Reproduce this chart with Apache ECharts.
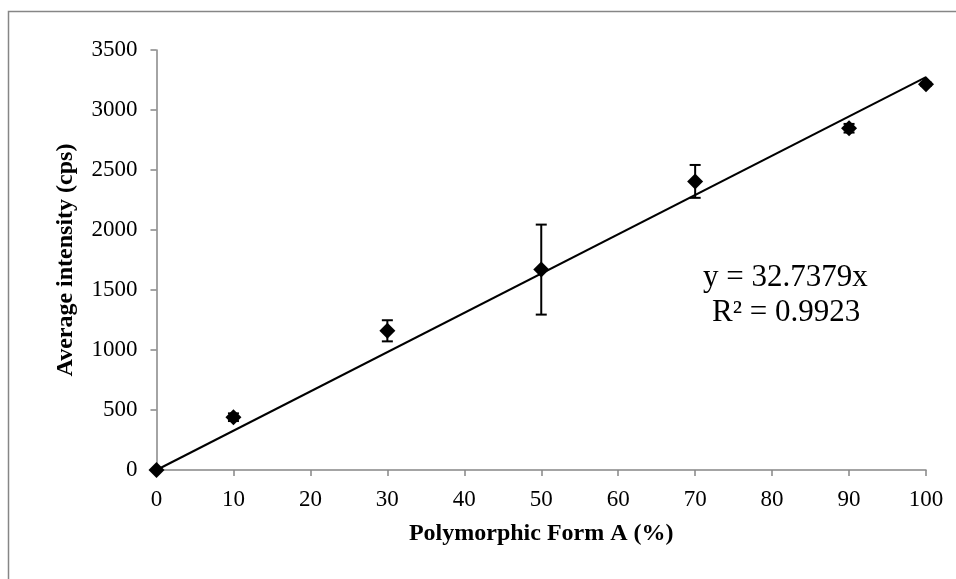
<!DOCTYPE html>
<html>
<head>
<meta charset="utf-8">
<script src="https://cdn.jsdelivr.net/npm/echarts@6/dist/echarts.min.js"></script>
<style>
  html, body { margin: 0; padding: 0; background: #fff; }
  #chart { width: 956px; height: 579px; }
</style>
</head>
<body>
<div id="chart"></div>
<script>
// Polymorphic form A content (%) and measured average intensity (cps)
const formA = [0, 10, 30, 50, 70, 90, 100];
const intensity = [0, 440, 1160, 1670, 2405, 2848, 3215];
// standard deviation of each measurement (cps)
const stdDev = [0, 32, 88, 375, 137, 36, 15];
// linear fit through the origin
const slope = 32.7379;
const rSquared = 0.9923;
const fitRange = [0, 100];

const axisGray = '#868686';
const font = 'Liberation Serif, "Times New Roman", serif';

const points = formA.map((x, i) => [x, intensity[i]]);
const errData = formA.map((x, i) => [x, intensity[i] - stdDev[i], intensity[i] + stdDev[i]]);
const fitLine = fitRange.map(x => [x, slope * x]);

const chart = echarts.init(document.getElementById('chart'), null, { renderer: 'canvas' });

chart.setOption({
  backgroundColor: '#fff',
  animation: false,
  grid: { left: 156.5, right: 30, top: 50, bottom: 109 },
  xAxis: {
    type: 'value',
    min: 0, max: 100, interval: 10,
    name: 'Polymorphic Form A (%)',
    nameLocation: 'middle',
    nameGap: 52,
    nameTextStyle: { fontFamily: font, fontSize: 24, fontWeight: 'bold', color: '#000' },
    axisLine: { show: true, lineStyle: { color: axisGray, width: 1.5 } },
    axisTick: { show: true, inside: false, length: 6, lineStyle: { color: axisGray, width: 1.5 } },
    axisLabel: { fontFamily: font, fontSize: 23, color: '#000', margin: 18 },
    splitLine: { show: false }
  },
  yAxis: {
    type: 'value',
    min: 0, max: 3500, interval: 500,
    name: 'Average intensity (cps)',
    nameLocation: 'middle',
    nameGap: 79,
    nameTextStyle: { fontFamily: font, fontSize: 24, fontWeight: 'bold', color: '#000' },
    axisLine: { show: true, lineStyle: { color: axisGray, width: 1.5 } },
    axisTick: { show: true, inside: false, length: 6, lineStyle: { color: axisGray, width: 1.5 } },
    axisLabel: { fontFamily: font, fontSize: 23, color: '#000', margin: 19, formatter: v => String(v) },
    splitLine: { show: false }
  },
  graphic: [
    {
      type: 'rect',
      shape: { x: 8.5, y: 11.5, width: 1000, height: 1000 },
      style: { fill: 'none', stroke: axisGray, lineWidth: 1.5 },
      silent: true, z: -1
    },
    {
      type: 'text',
      left: 703, top: 262,
      style: { text: 'y = ' + slope + 'x', fontFamily: font, fontSize: 31, fill: '#000' }
    },
    {
      type: 'text',
      left: 712, top: 297,
      style: { text: 'R\u00B2 = ' + rSquared, fontFamily: font, fontSize: 31, fill: '#000' }
    }
  ],
  series: [
    {
      name: 'fit',
      type: 'line',
      data: fitLine,
      symbol: 'none',
      lineStyle: { color: '#000', width: 2 },
      z: 2
    },
    {
      name: 'error',
      type: 'custom',
      data: errData,
      z: 3,
      renderItem: function (params, api) {
        const x = api.value(0);
        const lo = api.coord([x, api.value(1)]);
        const hi = api.coord([x, api.value(2)]);
        const half = 5.5;
        const st = { stroke: '#000', lineWidth: 2 };
        return {
          type: 'group',
          children: [
            { type: 'line', shape: { x1: lo[0], y1: lo[1], x2: hi[0], y2: hi[1] }, style: st },
            { type: 'line', shape: { x1: lo[0] - half, y1: lo[1], x2: lo[0] + half, y2: lo[1] }, style: st },
            { type: 'line', shape: { x1: hi[0] - half, y1: hi[1], x2: hi[0] + half, y2: hi[1] }, style: st }
          ]
        };
      }
    },
    {
      name: 'data',
      type: 'scatter',
      data: points,
      symbol: 'diamond',
      symbolSize: [16, 16],
      itemStyle: { color: '#000', opacity: 1 },
      z: 4
    }
  ]
});
</script>
</body>
</html>
